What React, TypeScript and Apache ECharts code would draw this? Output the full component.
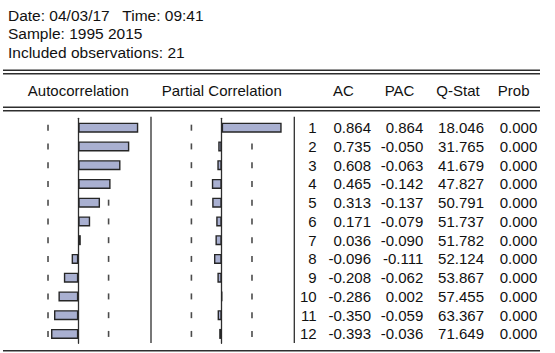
import React, { useEffect, useRef } from 'react';
import * as echarts from 'echarts';

const headerLines = ['Date: 04/03/17   Time: 09:41', 'Sample: 1995 2015', 'Included observations: 21'];
const nObs = 21;
const lags = ['1', '2', '3', '4', '5', '6', '7', '8', '9', '10', '11', '12'];
const ac = [0.864, 0.735, 0.608, 0.465, 0.313, 0.171, 0.036, -0.096, -0.208, -0.286, -0.35, -0.393];
const pac = [0.864, -0.05, -0.063, -0.142, -0.137, -0.079, -0.09, -0.111, -0.062, 0.002, -0.059, -0.036];
const qStat = [18.046, 31.765, 41.679, 47.827, 50.791, 51.737, 51.782, 52.124, 53.867, 57.455, 63.367, 71.649];
const prob = [0, 0, 0, 0, 0, 0, 0, 0, 0, 0, 0, 0];
const panelTitles = ['Autocorrelation', 'Partial Correlation'];
const columnHeaders = ['AC', 'PAC', 'Q-Stat', 'Prob'];

const FONT = "'Liberation Sans', Arial, sans-serif";
const TXT = '#111';
const LINE = '#2e2e2e';

function boundMarks(vals: number[], bound: number) {
  const out: number[][] = [];
  vals.forEach((v, i) => {
    [-1, 1].forEach((s) => {
      const covered = v * s > 0 && Math.abs(v) >= bound;
      if (!covered) out.push([s * bound, i]);
    });
  });
  return out;
}

export default function App() {
  const ref = useRef<HTMLDivElement>(null);
  useEffect(() => {
    if (!ref.current) return;
    const chart = echarts.init(ref.current, null, { renderer: 'svg' });
    const bound = 2 / Math.sqrt(nObs);
    const gridTop = 118.3;
    const gridH = 225;
    const panelW = 138.8;
    const fmt3 = (v: number) => v.toFixed(3);

    const tableCols: { vals: string[]; right: number }[] = [
      { vals: lags, right: 316.7 },
      { vals: ac.map(fmt3), right: 371 },
      { vals: pac.map(fmt3), right: 423.3 },
      { vals: qStat.map(fmt3), right: 484 },
      { vals: prob.map(fmt3), right: 537.3 },
    ];
    const pacRight = 152.3 + panelW;

    const hidden = { show: false };
    const xAxisBase = {
      type: 'value',
      min: -1,
      max: 1,
      axisLine: hidden,
      axisTick: hidden,
      axisLabel: hidden,
      splitLine: hidden,
    };
    const mainY = (gi: number) => ({
      type: 'category',
      gridIndex: gi,
      data: lags,
      inverse: true,
      axisLine: { show: true, onZero: true, lineStyle: { color: LINE, width: 1.3 } },
      axisTick: hidden,
      axisLabel: hidden,
      splitLine: hidden,
    });
    const tableY = tableCols.map((c) => ({
      type: 'category',
      gridIndex: 1,
      data: lags,
      inverse: true,
      position: 'right',
      axisLine: hidden,
      axisTick: hidden,
      splitLine: hidden,
      axisLabel: {
        interval: 0,
        align: 'right',
        margin: c.right - pacRight,
        fontSize: 15,
        fontFamily: FONT,
        color: TXT,
        formatter: (_v: string, i: number) => c.vals[i],
      },
    }));

    const barStyle = { color: '#a9b0d1', borderColor: '#262626', borderWidth: 1.4 };
    const markStyle = { color: '#1e1e1e' };

    const hLine = (y: number) => ({
      type: 'line',
      shape: { x1: 3, y1: y, x2: 540, y2: y },
      style: { stroke: LINE, lineWidth: 1.4 },
    });
    const vLine = (x: number) => ({
      type: 'line',
      shape: { x1: x, y1: 116.7, x2: x, y2: 343 },
      style: { stroke: LINE, lineWidth: 1.3 },
    });
    const text = (t: string, x: number, y: number, align = 'left', size = 15) => ({
      type: 'text',
      x,
      y,
      style: {
        text: t,
        fill: TXT,
        font: `${size}px ${FONT}`,
        textAlign: align,
        textVerticalAlign: 'middle',
      },
    });

    const headerYs = [15, 33.5, 52];
    const panelCenters = [78.3, 221.7];
    const colCenters = [343.3, 399.5, 458, 513.7];

    chart.setOption({
      animation: false,
      backgroundColor: '#fff',
      grid: [
        { left: 8.9, top: gridTop, width: panelW, height: gridH },
        { left: 152.3, top: gridTop, width: panelW, height: gridH },
      ],
      xAxis: [
        { ...xAxisBase, gridIndex: 0 },
        { ...xAxisBase, gridIndex: 1 },
      ],
      yAxis: [mainY(0), mainY(1), ...tableY],
      series: [
        {
          type: 'scatter',
          xAxisIndex: 0,
          yAxisIndex: 0,
          symbol: 'rect',
          symbolSize: [1.6, 6],
          itemStyle: markStyle,
          data: boundMarks(ac, bound),
          z: 1,
        },
        {
          type: 'scatter',
          xAxisIndex: 1,
          yAxisIndex: 1,
          symbol: 'rect',
          symbolSize: [1.6, 6],
          itemStyle: markStyle,
          data: boundMarks(pac, bound),
          z: 1,
        },
        {
          type: 'bar',
          xAxisIndex: 0,
          yAxisIndex: 0,
          barWidth: 10,
          itemStyle: barStyle,
          data: ac,
          z: 3,
        },
        {
          type: 'bar',
          xAxisIndex: 1,
          yAxisIndex: 1,
          barWidth: 10,
          itemStyle: barStyle,
          data: pac,
          z: 3,
        },
      ],
      graphic: [
        ...headerLines.map((t, i) => text(t, 8, headerYs[i], 'left', 15.5)),
        hLine(70.3),
        hLine(73.8),
        hLine(107.3),
        hLine(110.8),
        hLine(350.8),
        vLine(151),
        vLine(294.3),
        ...panelTitles.map((t, i) => text(t, panelCenters[i], 90.5, 'center')),
        ...columnHeaders.map((t, i) => text(t, colCenters[i], 90.5, 'center')),
      ],
    });
    return () => chart.dispose();
  }, []);
  return (
    <div
      ref={ref}
      style={{ position: 'fixed', left: 0, top: 0, width: 555, height: 353, background: '#fff' }}
    />
  );
}
